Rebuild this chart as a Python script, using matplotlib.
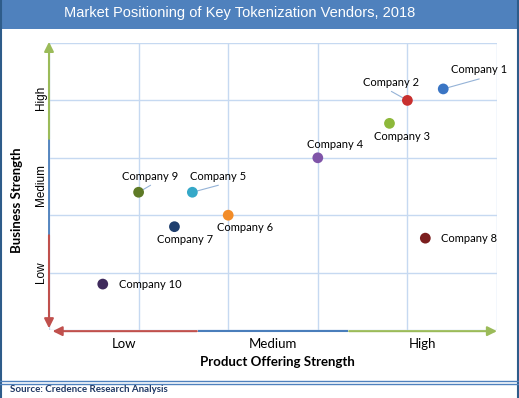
import matplotlib.pyplot as plt
from matplotlib.patches import Rectangle
from matplotlib.lines import Line2D

# positioning scores (0-5 scale on both axes)
companies = ['Company 1', 'Company 2', 'Company 3', 'Company 4', 'Company 5',
             'Company 6', 'Company 7', 'Company 8', 'Company 9', 'Company 10']
product_strength = [4.4, 4.0, 3.8, 3.0, 1.6, 2.0, 1.4, 4.2, 1.0, 0.6]
business_strength = [4.2, 4.0, 3.6, 3.0, 2.4, 2.0, 1.8, 1.6, 2.4, 0.8]
level_labels = ['Low', 'Medium', 'High']

colors = ['#3a75c4', '#c8302f', '#8db83a', '#7f54a8', '#35a8c8',
          '#f28c28', '#1f3f6e', '#7b1e1e', '#5e7a26', '#3f2a5c']
# label offsets in pixels (dx, dy), alignment, leader line
label_pos = [(36, 19, 'center', True), (-16, 18, 'center', True),
             (13, -13, 'center', False), (17, 13, 'center', False),
             (26, 16, 'center', True), (17, -12, 'center', False),
             (11, -13, 'center', False), (16, 0, 'left', False),
             (12, 16, 'center', True), (16, 0, 'left', False)]

fig = plt.figure(figsize=(5.19, 3.98), dpi=100)
W, H = 519, 398

def fx(px):
    return px / W

def fy(py):
    return 1 - py / H

# title bar + frame
fig.patches.append(Rectangle((0, fy(29)), 1, 29 / H, transform=fig.transFigure,
                             facecolor='#4f81bd', edgecolor='none', zorder=0))
fig.lines.append(Line2D([fx(1), fx(1)], [0, 1], transform=fig.transFigure, color='#2e5c8a', lw=1.5))
fig.lines.append(Line2D([fx(517.5), fx(517.5)], [0, 1], transform=fig.transFigure, color='#2e5c8a', lw=1.5))
fig.lines.append(Line2D([0, 1], [fy(381), fy(381)], transform=fig.transFigure, color='#4f81bd', lw=1))
fig.lines.append(Line2D([0, 1], [fy(383.5), fy(383.5)], transform=fig.transFigure, color='#4f81bd', lw=1))
fig.text(fx(240), fy(13), 'Market Positioning of Key Tokenization Vendors, 2018', color='white',
         fontsize=10.5, family='Liberation Sans', ha='center', va='center')
fig.text(fx(10), fy(390), 'Source: Credence Research Analysis', color='#1f3864',
         fontsize=7, family='Lato', fontweight='bold', ha='left', va='center')

ax = fig.add_axes([fx(49), fy(330), fx(497) - fx(49), (330 - 43) / H])
ax.set_xlim(0, 5)
ax.set_ylim(0, 5)
for s in ax.spines.values():
    s.set_visible(False)
ax.set_xticks([])
ax.set_yticks([])
for v in range(6):
    ax.axvline(v, color='#c6d9f1', lw=1, zorder=0)
    ax.axhline(v, color='#c6d9f1', lw=1, zorder=0)

# axis arrows
arr = dict(arrowstyle='-|>', lw=1.5, mutation_scale=14)
ax.annotate('', xy=(0, 5.02), xytext=(0, 3.33), annotation_clip=False,
            arrowprops=dict(arr, color='#9bbb59', shrinkA=0, shrinkB=0))
ax.plot([0, 0], [1.65, 3.33], color='#4a7ebb', lw=1.3, clip_on=False)
ax.annotate('', xy=(0, 0.03), xytext=(0, 1.65), annotation_clip=False,
            arrowprops=dict(arr, color='#c0504d', shrinkA=0, shrinkB=0))
ax.annotate('', xy=(0.04, -0.02), xytext=(1.65, -0.02), annotation_clip=False,
            arrowprops=dict(arr, color='#c0504d', shrinkA=0, shrinkB=0))
ax.plot([1.67, 3.33], [-0.02, -0.02], color='#4a7ebb', lw=1.5, clip_on=False)
ax.annotate('', xy=(5.0, -0.02), xytext=(3.35, -0.02), annotation_clip=False,
            arrowprops=dict(arr, color='#9bbb59', shrinkA=0, shrinkB=0))

# level labels
for i, lab in enumerate(level_labels):
    ax.text(5 / 6 + i * 5 / 3, -0.25, lab, ha='center', va='center',
            fontsize=9.5, family='Lato', transform=ax.transData)
for lab, yv in zip(level_labels, [1.0, 2.52, 4.04]):
    ax.text(-0.09, yv, lab, rotation=90, ha='center', va='center',
            fontsize=8.5, family='Liberation Sans')
ax.text(2.55, -0.55, 'Product Offering Strength', ha='center', va='center',
        fontsize=9.5, family='Lato', fontweight='bold')
fig.text(fx(17), fy(200), 'Business Strength', rotation=90, ha='center', va='center',
         fontsize=9.5, family='Lato', fontweight='bold')

ax.scatter(product_strength, business_strength, s=60, c=colors, zorder=3,
           edgecolors='none')
for name, x, y, (dx, dy, ha, lead) in zip(companies, product_strength, business_strength, label_pos):
    ax.annotate(name, (x, y), xytext=(dx, dy), textcoords='offset pixels',
                ha=ha, va='center', fontsize=8, family='Lato', zorder=4)
    if lead:
        ax.annotate('', (x, y), xytext=(dx, dy - 9), textcoords='offset pixels',
                    arrowprops=dict(arrowstyle='-', color='#95b3d7', lw=0.8,
                                    shrinkA=0, shrinkB=0), zorder=2)

fig.savefig('out.png', dpi=100)
